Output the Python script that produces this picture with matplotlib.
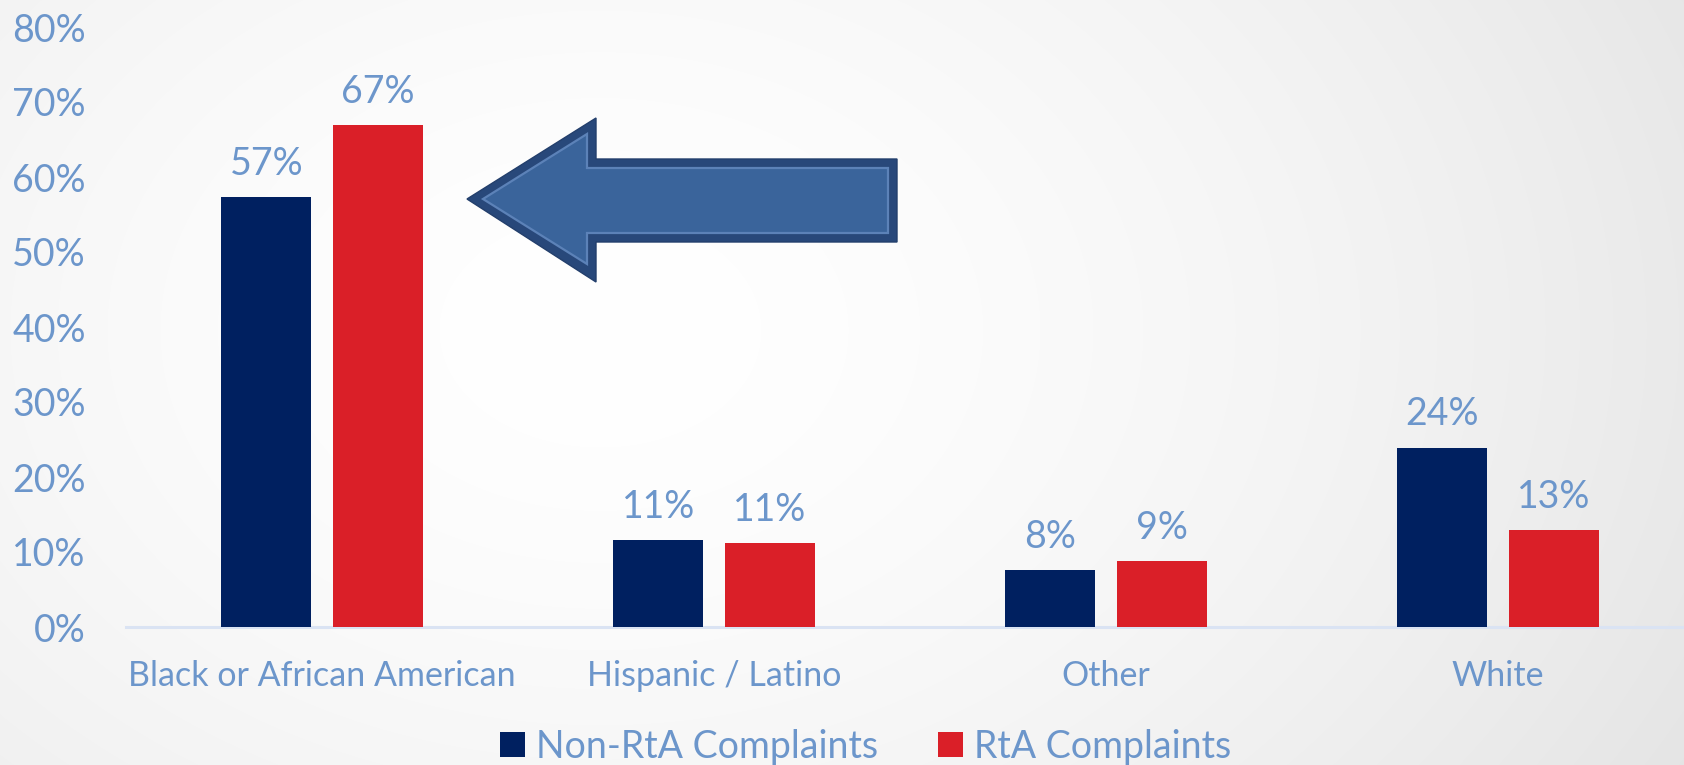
import numpy as np
import matplotlib
matplotlib.use('Agg')
import matplotlib.pyplot as plt
from matplotlib.patches import Polygon, Patch

categories = ['Black or African American', 'Hispanic / Latino', 'Other', 'White']
series_names = ['Non-RtA Complaints', 'RtA Complaints']
non_rta = [0.573, 0.116, 0.076, 0.239]
rta = [0.669, 0.112, 0.088, 0.129]
non_rta_labels = ['57%', '11%', '8%', '24%']
rta_labels = ['67%', '11%', '9%', '13%']
ytick_vals = [0.0, 0.1, 0.2, 0.3, 0.4, 0.5, 0.6, 0.7, 0.8]
ytick_labels = ['0%', '10%', '20%', '30%', '40%', '50%', '60%', '70%', '80%']

NAVY = '#002060'
RED = '#DA1F28'
TXT = '#6C96CB'
AXLINE = '#DAE3F3'

plt.rcParams['font.family'] = ['Lato', 'DejaVu Sans']

W, H = 1684, 765
fig = plt.figure(figsize=(W / 100, H / 100), dpi=100)

# background gradient
bg = fig.add_axes([0, 0, 1, 1], zorder=-10)
yy, xx = np.mgrid[0:H, 0:W]
d = np.sqrt(((xx - 600) / 1100.0) ** 2 + ((yy - 330) / 800.0) ** 2)
v = 1 - 0.085 * d ** 1.6
v = np.clip(v, 0.87, 1.0)
bg.imshow(np.dstack([v, v, v]), extent=[0, 1, 0, 1], aspect='auto', interpolation='bilinear')
bg.set_xlim(0, 1)
bg.set_ylim(0, 1)
bg.axis('off')

ax = fig.add_axes([126 / W, (H - 627) / H, 1568 / W, 600 / H])
ax.patch.set_alpha(0)
ax.set_xlim(-0.5, 3.5)
ax.set_ylim(0, 0.8)

x = np.arange(len(categories))
off = 0.142
bw = 0.229
b1 = ax.bar(x - off, non_rta, bw, color=NAVY, zorder=3)
b2 = ax.bar(x + off, rta, bw, color=RED, zorder=3)
ax.bar_label(b1, labels=non_rta_labels, padding=11, color=TXT, fontsize=27)
ax.bar_label(b2, labels=rta_labels, padding=11, color=TXT, fontsize=27)

for s in ['top', 'right', 'left']:
    ax.spines[s].set_visible(False)
ax.spines['bottom'].set_color(AXLINE)
ax.spines['bottom'].set_linewidth(2.2)
ax.spines['bottom'].set_zorder(2)

ax.set_yticks(ytick_vals)
ax.set_yticklabels(ytick_labels)
ax.tick_params(axis='y', length=0, pad=29, labelsize=27, labelcolor=TXT)
ax.set_xticks(x)
ax.set_xticklabels(categories)
ax.tick_params(axis='x', length=0, pad=24, labelsize=24.5, labelcolor=TXT)

# legend
handles = [Patch(facecolor=NAVY, edgecolor='none'), Patch(facecolor=RED, edgecolor='none')]
leg = fig.legend(handles, series_names, loc='center', bbox_to_anchor=(866 / W, (H - 747) / H),
                 ncol=2, frameon=False, fontsize=27, handlelength=0.66, handleheight=0.66,
                 handletextpad=0.3, columnspacing=1.6, labelcolor=TXT)

# arrow shape (pixel coords, y down)
outer = [(467, 199), (596, 118), (596, 159), (897, 159), (897, 242), (596, 242), (596, 282)]
inner = [(483, 199), (587, 134), (587, 168), (888, 168), (888, 233), (587, 233), (587, 264)]
def tofig(pts):
    return [(px / W, 1 - py / H) for px, py in pts]
fig.patches.append(Polygon(tofig(outer), closed=True, transform=fig.transFigure,
                           facecolor='#28487A', edgecolor='#233F6C', lw=1.0, zorder=5))
fig.patches.append(Polygon(tofig(inner), closed=True, transform=fig.transFigure,
                           facecolor='#3A649B', edgecolor='#5C82B8', lw=1.6, zorder=6))

fig.savefig('out.png', dpi=100)
